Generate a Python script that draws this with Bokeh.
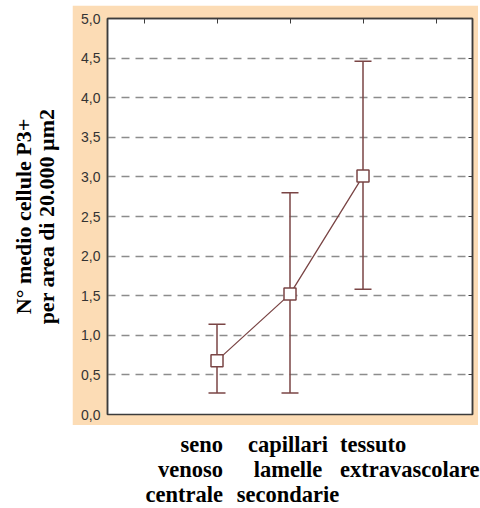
import math

from bokeh.plotting import figure
from bokeh.layouts import row, column
from bokeh.models import (LinearAxis, FixedTicker, CustomJSTickFormatter, Whisker,
                          ColumnDataSource, Range1d, TeeHead, Grid, Spacer)
from bokeh.core.properties import value
from bokeh.embed import file_html
from bokeh.resources import INLINE

# --- data -------------------------------------------------------------
positions = [1, 2, 3]
means = [0.68, 1.52, 3.01]
upper = [1.14, 2.80, 4.46]
lower = [0.27, 0.27, 1.58]

category_lines = [
    ["seno", "venoso", "centrale"],
    ["capillari", "lamelle", "secondarie"],
    ["tessuto", "extravascolare"],
]
category_align = ["right", "center", "left"]
category_nudge = [6, -2, -23]   # px, relative to the category position

y_ticks = [0.0, 0.5, 1.0, 1.5, 2.0, 2.5, 3.0, 3.5, 4.0, 4.5, 5.0]
top_ticks = [0, 1, 2, 3, 4]
y_title = ["N° medio cellule P3+", "per area di 20.000 µm2"]

BROWN = "#7a4545"
ORANGE = "#fcdcb5"
FRAME = "#3c3c3c"
GRID = "#8c8c8c"
SERIF = value("Liberation Serif")
LABEL_SIZE = "22.5px"
TITLE_SIZE = "22px"

# --- geometry of the panel ----------------------------------------------
PANEL_W, PANEL_H = 406, 420
B_LEFT, B_RIGHT, B_TOP, B_BOTTOM = 35, 6, 13, 11
X_START, X_END = -0.5, 4.5
FRAME_W = PANEL_W - B_LEFT - B_RIGHT
px_per_unit = FRAME_W / (X_END - X_START)

# --- main chart -------------------------------------------------------
p = figure(width=PANEL_W, height=PANEL_H, output_backend="svg", toolbar_location=None,
           x_range=Range1d(X_START, X_END), y_range=Range1d(0, 5),
           x_axis_location=None, y_axis_location=None,
           min_border_left=B_LEFT, min_border_right=B_RIGHT,
           min_border_top=B_TOP, min_border_bottom=B_BOTTOM,
           frame_align=False)
p.center = [r for r in p.center if not isinstance(r, Grid)]
p.background_fill_color = "white"
p.border_fill_color = ORANGE
p.outline_line_color = FRAME
p.outline_line_width = 1.5

grid = Grid(dimension=1, ticker=FixedTicker(ticks=y_ticks[1:-1]),
            grid_line_color=GRID, grid_line_width=1.5, grid_line_dash="8 6")
p.add_layout(grid)

left_axis = LinearAxis(ticker=FixedTicker(ticks=y_ticks),
                       formatter=CustomJSTickFormatter(code="return tick.toFixed(1).replace('.', ',');"),
                       major_tick_in=0, major_tick_out=0,
                       minor_tick_in=0, minor_tick_out=0,
                       axis_line_color=FRAME, axis_line_width=1.5,
                       major_label_text_font="Liberation Sans",
                       major_label_text_font_size="14px",
                       major_label_text_color="#333333",
                       major_label_standoff=7)
p.add_layout(left_axis, "left")

# tick-only axes on the right and top edges
no_labels = CustomJSTickFormatter(code="return '';")
right_axis = LinearAxis(ticker=FixedTicker(ticks=y_ticks), formatter=no_labels,
                        major_label_text_font_size="1px", major_label_standoff=0,
                        major_tick_in=4, major_tick_out=0,
                        minor_tick_in=0, minor_tick_out=0,
                        axis_line_color=FRAME, axis_line_width=1.5,
                        major_tick_line_color=FRAME)
p.add_layout(right_axis, "right")

top_axis = LinearAxis(ticker=FixedTicker(ticks=top_ticks), formatter=no_labels,
                      major_label_text_font_size="1px", major_label_standoff=0,
                      major_tick_in=5, major_tick_out=0,
                      minor_tick_in=0, minor_tick_out=0,
                      axis_line_color=FRAME, axis_line_width=1.5,
                      major_tick_line_color=FRAME)
p.add_layout(top_axis, "above")

src = ColumnDataSource(dict(x=positions, mean=means, upper=upper, lower=lower))
whisker = Whisker(base="x", upper="upper", lower="lower", source=src,
                  line_color=BROWN, line_width=1.5, level="underlay",
                  upper_head=TeeHead(size=17, line_color=BROWN, line_width=1.5),
                  lower_head=TeeHead(size=17, line_color=BROWN, line_width=1.5))
p.add_layout(whisker)

p.line("x", "mean", source=src, line_color=BROWN, line_width=1.3)
p.scatter("x", "mean", source=src, marker="square", size=12,
          fill_color="white", line_color=BROWN, line_width=1.5)

# --- category labels strip (same x scale as the chart) -------------------
STRIP_W, STRIP_H = PANEL_W + 2, 83
cat = figure(width=STRIP_W, height=STRIP_H, output_backend="svg", toolbar_location=None,
             x_range=Range1d(X_START - B_LEFT / px_per_unit,
                             X_END + (B_RIGHT + STRIP_W - PANEL_W) / px_per_unit),
             y_range=Range1d(STRIP_H, 0),
             x_axis_location=None, y_axis_location=None, min_border=0,
             frame_align=False)
cat.center = []
cat.outline_line_color = None
cat.background_fill_color = "white"
cat.border_fill_color = "white"

line_base = [19, 44, 69]
for pos, lines, align, nudge in zip(positions, category_lines, category_align, category_nudge):
    cat.text(x=[pos + nudge / px_per_unit] * len(lines), y=line_base[:len(lines)], text=lines,
             text_align=align, text_baseline="alphabetic",
             text_font=SERIF, text_font_style="bold", text_font_size=LABEL_SIZE,
             text_color="black")

# --- rotated y title strip ---------------------------------------------
TITLE_W, TOTAL_H = 72, 508
ttl = figure(width=TITLE_W, height=TOTAL_H, output_backend="svg", toolbar_location=None,
             x_range=Range1d(0, TITLE_W), y_range=Range1d(TOTAL_H, 0),
             x_axis_location=None, y_axis_location=None, min_border=0,
             frame_align=False)
ttl.center = []
ttl.outline_line_color = None
ttl.background_fill_color = "white"
ttl.border_fill_color = "white"
ttl.text(x=[23, 46], y=[5 + B_TOP + (PANEL_H - B_TOP - B_BOTTOM) / 2] * 2, text=y_title,
         angle=math.pi / 2, text_align="center", text_baseline="middle",
         text_font=SERIF, text_font_style="bold", text_font_size=TITLE_SIZE,
         text_color="black")

layout = row(ttl, column(Spacer(width=PANEL_W, height=5), p, cat, spacing=0), spacing=0)

open("out.html", "w").write(file_html(layout, INLINE))
